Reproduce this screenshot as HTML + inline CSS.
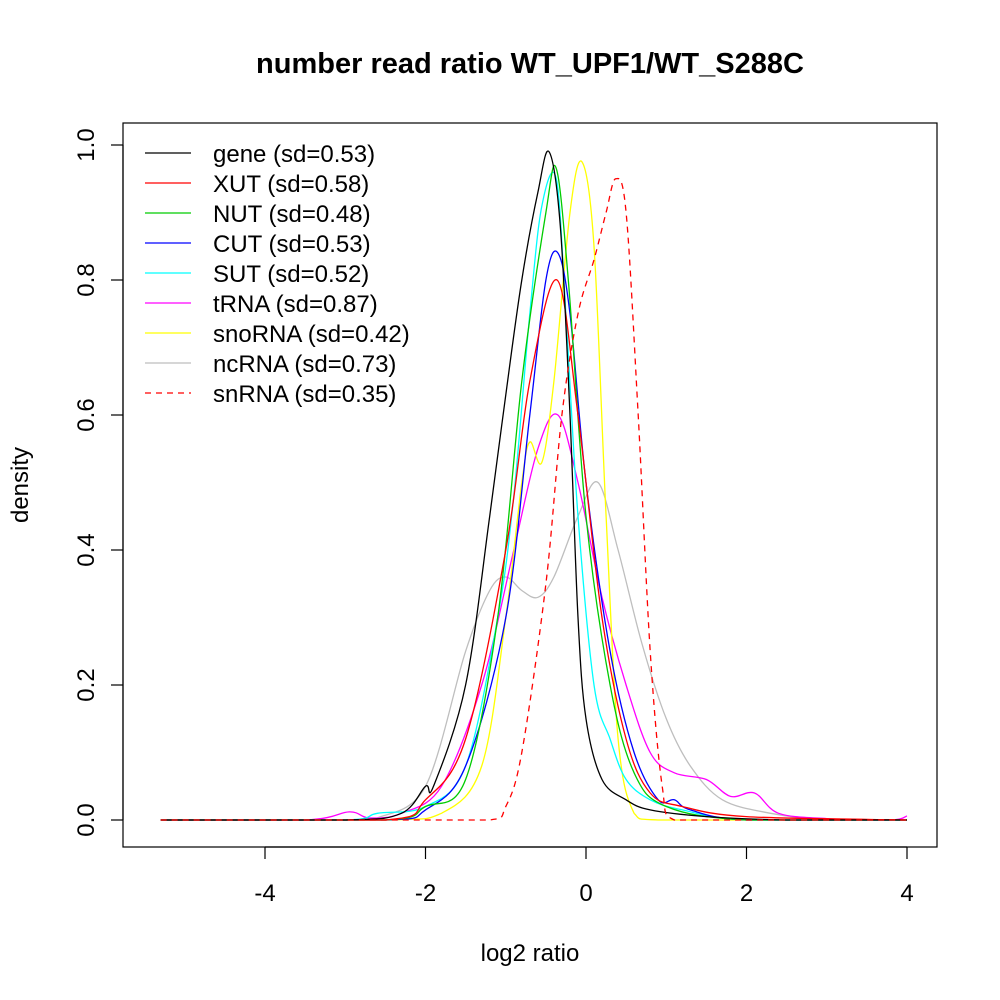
<!DOCTYPE html>
<html><head><style>
html,body{margin:0;padding:0;background:#fff;}
svg{display:block;font-family:"Liberation Sans",sans-serif;}
</style></head><body>
<svg id="s" width="1000" height="1000" viewBox="0 0 1000 1000">
<rect width="1000" height="1000" fill="#fff"/>
<text x="530" y="73" font-size="29" font-weight="bold" text-anchor="middle">number read ratio WT_UPF1/WT_S288C</text>
<rect x="123" y="123" width="814" height="724" fill="none" stroke="#000" stroke-width="1.2"/>
<g stroke="#000" stroke-width="1.2">
<line x1="265" y1="847" x2="907" y2="847"/>
<line x1="265" y1="847" x2="265" y2="859"/><line x1="425.5" y1="847" x2="425.5" y2="859"/><line x1="586" y1="847" x2="586" y2="859"/><line x1="746.5" y1="847" x2="746.5" y2="859"/><line x1="907" y1="847" x2="907" y2="859"/>
<line x1="123" y1="820" x2="123" y2="145"/>
<line x1="111" y1="820" x2="123" y2="820"/><line x1="111" y1="685" x2="123" y2="685"/><line x1="111" y1="550" x2="123" y2="550"/><line x1="111" y1="415" x2="123" y2="415"/><line x1="111" y1="280" x2="123" y2="280"/><line x1="111" y1="145" x2="123" y2="145"/>
</g>
<g font-size="24" text-anchor="middle">
<text x="265" y="901">-4</text><text x="425.5" y="901">-2</text><text x="586" y="901">0</text><text x="746.5" y="901">2</text><text x="907" y="901">4</text>
<text x="530" y="961">log2 ratio</text>
<text transform="translate(28,485) rotate(-90)">density</text>
<text transform="translate(94,820) rotate(-90)">0.0</text>
<text transform="translate(94,685) rotate(-90)">0.2</text>
<text transform="translate(94,550) rotate(-90)">0.4</text>
<text transform="translate(94,415) rotate(-90)">0.6</text>
<text transform="translate(94,280) rotate(-90)">0.8</text>
<text transform="translate(94,145) rotate(-90)">1.0</text>
</g>
<g id="curves" fill="none" stroke-width="1.3"></g>
<g font-size="24" stroke-width="1.3">
<line x1="145" y1="153" x2="191" y2="153" stroke="#000"/><text x="213" y="162">gene (sd=0.53)</text>
<line x1="145" y1="183" x2="191" y2="183" stroke="#f00"/><text x="213" y="192">XUT (sd=0.58)</text>
<line x1="145" y1="213" x2="191" y2="213" stroke="#0c0"/><text x="213" y="222">NUT (sd=0.48)</text>
<line x1="145" y1="243" x2="191" y2="243" stroke="#00f"/><text x="213" y="252">CUT (sd=0.53)</text>
<line x1="145" y1="273" x2="191" y2="273" stroke="#0ff"/><text x="213" y="282">SUT (sd=0.52)</text>
<line x1="145" y1="303" x2="191" y2="303" stroke="#f0f"/><text x="213" y="312">tRNA (sd=0.87)</text>
<line x1="145" y1="333" x2="191" y2="333" stroke="#ff0"/><text x="213" y="342">snoRNA (sd=0.42)</text>
<line x1="145" y1="363" x2="191" y2="363" stroke="#bebebe"/><text x="213" y="372">ncRNA (sd=0.73)</text>
<line x1="145" y1="393" x2="191" y2="393" stroke="#f00" stroke-dasharray="6,5"/><text x="213" y="402">snRNA (sd=0.35)</text>
</g>
</svg>
<script>
var C=[
["#bebebe","",[[-5.3,0],[-2.8,0],[-2.6,0.003],[-2,0.05],[-1.5,0.25],[-1.2,0.34],[-1.0,0.36],[-0.8,0.34],[-0.6,0.33],[-0.4,0.36],[-0.1,0.45],[0.15,0.5],[0.4,0.4],[0.7,0.26],[1.0,0.15],[1.3,0.08],[1.7,0.03],[2.3,0.01],[3,0],[4,0]]],
["#f0f","",[[-5.3,0],[-3.5,0],[-2.95,0.012],[-2.7,0.003],[-2.3,0.01],[-1.8,0.05],[-1.3,0.2],[-0.9,0.4],[-0.6,0.55],[-0.35,0.6],[-0.1,0.5],[0.2,0.33],[0.5,0.2],[0.8,0.1],[1.1,0.07],[1.5,0.06],[1.8,0.035],[2.1,0.04],[2.4,0.01],[3,0.002],[3.8,0],[4,0.006]]],
["#ff0","",[[-5.3,0],[-2.5,0],[-1.8,0.01],[-1.3,0.08],[-1.0,0.3],[-0.8,0.5],[-0.7,0.56],[-0.55,0.53],[-0.4,0.65],[-0.2,0.9],[-0.05,0.975],[0.1,0.85],[0.25,0.45],[0.4,0.12],[0.6,0.01],[0.9,0],[4,0]]],
["#0ff","",[[-5.3,0],[-3,0],[-2.6,0.01],[-2,0.02],[-1.5,0.08],[-1.1,0.3],[-0.9,0.48],[-0.7,0.75],[-0.55,0.91],[-0.37,0.95],[-0.25,0.75],[-0.1,0.45],[0.1,0.2],[0.3,0.12],[0.5,0.06],[0.8,0.03],[1.2,0.015],[2,0],[4,0]]],
["#00f","",[[-5.3,0],[-2.5,0],[-2,0.015],[-1.5,0.08],[-1.0,0.3],[-0.7,0.6],[-0.5,0.8],[-0.35,0.84],[-0.2,0.75],[0,0.5],[0.3,0.25],[0.6,0.1],[0.9,0.03],[1.1,0.03],[1.3,0.015],[2,0],[4,0]]],
["#0c0","",[[-5.3,0],[-2.5,0],[-2,0.02],[-1.5,0.06],[-1.1,0.3],[-0.8,0.65],[-0.5,0.9],[-0.37,0.965],[-0.22,0.8],[0,0.45],[0.3,0.2],[0.6,0.07],[1,0.02],[2,0],[4,0]]],
["#f00","",[[-5.3,0],[-2.5,0],[-2,0.03],[-1.5,0.12],[-1.0,0.4],[-0.7,0.65],[-0.36,0.8],[-0.1,0.6],[0.2,0.3],[0.5,0.12],[0.8,0.04],[1.2,0.02],[2,0.005],[4,0]]],
["#000","",[[-5.3,0],[-3,0],[-2.3,0.01],[-2.0,0.05],[-1.9,0.05],[-1.5,0.2],[-1.2,0.45],[-1.0,0.63],[-0.8,0.8],[-0.6,0.93],[-0.46,0.99],[-0.32,0.88],[-0.2,0.6],[-0.1,0.3],[0,0.15],[0.2,0.06],[0.5,0.03],[0.8,0.015],[1.5,0.005],[2.5,0],[4,0]]],
["#f00","6,5",[[-5.3,0],[-1.2,0],[-1.0,0.02],[-0.8,0.1],[-0.5,0.35],[-0.3,0.6],[-0.1,0.75],[0.1,0.83],[0.25,0.9],[0.37,0.95],[0.5,0.9],[0.65,0.6],[0.8,0.25],[0.95,0.05],[1.1,0],[4,0]]]
];
var g=document.getElementById("curves"),ns="http://www.w3.org/2000/svg";
C.forEach(function(c){
 var p=c[2].map(function(q){return [586+80.25*q[0],820-675*q[1]];});
 var d="M"+p[0][0].toFixed(1)+","+p[0][1].toFixed(1);
 for(var i=0;i<p.length-1;i++){
  var p0=p[Math.max(i-1,0)],p1=p[i],p2=p[i+1],p3=p[Math.min(i+2,p.length-1)];
  var c1=[p1[0]+(p2[0]-p0[0])/6,p1[1]+(p2[1]-p0[1])/6],c2=[p2[0]-(p3[0]-p1[0])/6,p2[1]-(p3[1]-p1[1])/6];
  c1[0]=Math.min(Math.max(c1[0],p1[0]),p2[0]);c2[0]=Math.min(Math.max(c2[0],p1[0]),p2[0]);
  c1[1]=Math.min(c1[1],820);c2[1]=Math.min(c2[1],820);
  d+="C"+c1[0].toFixed(1)+","+c1[1].toFixed(1)+" "+c2[0].toFixed(1)+","+c2[1].toFixed(1)+" "+p2[0].toFixed(1)+","+p2[1].toFixed(1);
 }
 var e=document.createElementNS(ns,"path");e.setAttribute("d",d);e.setAttribute("stroke",c[0]);
 if(c[1])e.setAttribute("stroke-dasharray",c[1]);g.appendChild(e);
});
</script>
</body></html>
